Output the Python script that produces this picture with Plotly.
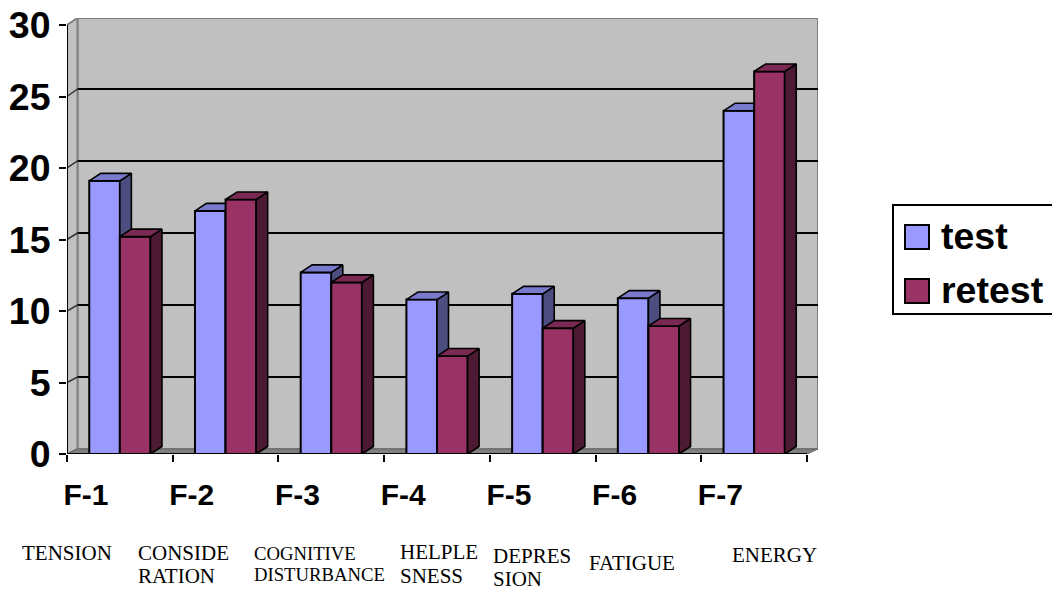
import plotly.graph_objects as go

# ---------- data ----------
factors = ["F-1", "F-2", "F-3", "F-4", "F-5", "F-6", "F-7"]
test_values = [19.1, 17.0, 12.7, 10.8, 11.2, 10.9, 24.0]
retest_values = [15.2, 17.8, 12.0, 6.85, 8.8, 8.95, 26.75]
y_ticks = [0, 5, 10, 15, 20, 25, 30]
series_names = ["test", "retest"]
sub_labels = ["TENSION", "CONSIDE", "RATION", "COGNITIVE", "DISTURBANCE", "HELPLE",
              "SNESS", "DEPRES", "SION", "FATIGUE", "ENERGY"]

# ---------- geometry / style ----------
W, H = 1052, 591
X0, X7, Y0, Y30 = 67, 807, 454, 25
XR, YT = 818, 18
px_x = (X7 - X0) / 7
px_y = (Y0 - Y30) / 30
x_max = (XR - X0) / px_x
y_max = (Y0 - YT) / px_y
wall_dx = 10.5 / px_x
bar_dx = 11.5 / px_x
bar_dy = 7.5 / px_y
bar_w = 30.6 / px_x
TEST, RETEST = "#9999FF", "#993366"
TEST_SIDE, RETEST_SIDE = "#4D4D80", "#4D1A33"
TEST_TOP, RETEST_TOP = "#7A7ACC", "#7A2952"
WALL, EDGE = "#C0C0C0", "#808080"
centers = [i + 0.5 for i in range(len(factors))]


def wall_y(v):
    return v * 1.007 + 0.35


def pxp(x):
    return x / W


def pyp(y):
    return 1 - y / H


def faces(values, left_offset):
    sx, sy, tx, ty = [], [], [], []
    for c, v in zip(centers, values):
        x0 = c + left_offset
        x1 = x0 + bar_w
        sx += [x1, x1 + bar_dx, x1 + bar_dx, x1, x1, None]
        sy += [0, bar_dy, v + bar_dy, v, 0, None]
        tx += [x0, x0 + bar_dx, x1 + bar_dx, x1, x0, None]
        ty += [v, v + bar_dy, v + bar_dy, v, v, None]
    return sx, sy, tx, ty


def poly(x, y, fill, xa, ya):
    return go.Scatter(x=x, y=y, mode="lines", fill="toself", fillcolor=fill,
                      line=dict(color="black", width=1.6), xaxis=xa, yaxis=ya,
                      hoverinfo="skip", showlegend=False)


fig = go.Figure()
ts = faces(test_values, -bar_w)
rs = faces(retest_values, 0)
fig.add_trace(go.Bar(x=centers, y=test_values, width=bar_w, offset=-bar_w, name=series_names[0],
                     marker=dict(color=TEST, line=dict(color="black", width=2)), showlegend=False))
fig.add_trace(poly(ts[0], ts[1], TEST_SIDE, "x", "y"))
fig.add_trace(poly(ts[2], ts[3], TEST_TOP, "x", "y"))
fig.add_trace(go.Bar(x=centers, y=retest_values, width=bar_w, offset=0, name=series_names[1],
                     marker=dict(color=RETEST, line=dict(color="black", width=2)),
                     xaxis="x2", yaxis="y2", showlegend=False))
fig.add_trace(poly(rs[0], rs[1], RETEST_SIDE, "x2", "y2"))
fig.add_trace(poly(rs[2], rs[3], RETEST_TOP, "x2", "y2"))

shapes = []
# back wall, side wall, floor
shapes.append(dict(type="rect", xref="x", yref="y", x0=wall_dx, x1=x_max, y0=wall_y(0), y1=y_max,
                   fillcolor=WALL, line=dict(color=EDGE, width=2), layer="below"))
shapes.append(dict(type="path", xref="x", yref="y",
                   path=f"M0,0 L{wall_dx},{wall_y(0)} L{wall_dx},{y_max} L0,30 Z",
                   fillcolor=WALL, line=dict(color=EDGE, width=2), layer="below"))
for v in y_ticks[1:-1]:
    shapes.append(dict(type="line", xref="x", yref="y", x0=wall_dx, x1=x_max, y0=wall_y(v), y1=wall_y(v),
                       line=dict(color="black", width=2), layer="below"))
    shapes.append(dict(type="line", xref="x", yref="y", x0=0, x1=wall_dx, y0=v, y1=wall_y(v),
                       line=dict(color="#333333", width=1.5), layer="below"))
shapes.append(dict(type="path", xref="x", yref="y",
                   path=f"M0,0 L{wall_dx},{wall_y(0)} L{x_max},{wall_y(0)} L7,0 Z",
                   fillcolor=EDGE, line=dict(color="#666666", width=1), layer="below"))
# axis lines
shapes.append(dict(type="line", xref="x", yref="y", x0=0, x1=0, y0=0, y1=30,
                   line=dict(color="black", width=2), layer="below"))
shapes.append(dict(type="line", xref="x", yref="y", x0=0, x1=7, y0=0, y1=0,
                   line=dict(color="black", width=2), layer="above"))
# legend box and swatches
shapes.append(dict(type="rect", xref="paper", yref="paper", x0=pxp(893), x1=pxp(1053), y0=pyp(314), y1=pyp(205),
                   fillcolor="white", line=dict(color="black", width=2)))
shapes.append(dict(type="rect", xref="paper", yref="paper", x0=pxp(905), x1=pxp(929), y0=pyp(249), y1=pyp(225),
                   fillcolor=TEST, line=dict(color="black", width=2)))
shapes.append(dict(type="rect", xref="paper", yref="paper", x0=pxp(905), x1=pxp(929), y0=pyp(303), y1=pyp(279),
                   fillcolor=RETEST, line=dict(color="black", width=2)))

annotations = []
for name, y in zip(series_names, [236, 290]):
    annotations.append(dict(text=name, xref="paper", yref="paper", x=pxp(939), y=pyp(y), xanchor="left",
                            yanchor="middle", showarrow=False, xshift=0,
                            font=dict(family="Liberation Sans", size=37.5, color="black", weight="bold")))
label_pos = [(22, 553, 21), (138, 553, 21), (138, 576, 21), (254, 553, 18.7), (254, 574, 18.7),
             (400, 552, 21), (400, 576, 21), (493, 556, 21), (493, 578.5, 21), (589, 563, 21), (732, 555, 21)]
for t, (x, y, s) in zip(sub_labels, label_pos):
    annotations.append(dict(text=t, xref="paper", yref="paper", x=pxp(x), y=pyp(y), xanchor="left",
                            yanchor="middle", showarrow=False, borderpad=0, borderwidth=0,
                            font=dict(family="Liberation Serif", size=s, color="black")))

dom_x = [pxp(X0), pxp(XR)]
dom_y = [pyp(Y0), pyp(YT)]
fig.update_layout(
    width=W, height=H, autosize=False, margin=dict(l=0, r=0, t=0, b=0, autoexpand=False),
    paper_bgcolor="white", plot_bgcolor="rgba(0,0,0,0)", showlegend=False,
    shapes=shapes, annotations=annotations,
    xaxis=dict(domain=dom_x, range=[0, x_max], showgrid=False, zeroline=False, showline=False,
               tickmode="array", tickvals=[i + 0.18 for i in range(7)], ticktext=factors,
               ticks="outside", ticklen=0, ticklabelstandoff=14,
               tickfont=dict(family="Liberation Sans", size=30, color="black", weight="bold"),
               minor=dict(tickmode="array", tickvals=list(range(8)), ticks="outside", ticklen=7,
                          tickwidth=2, tickcolor="black", showgrid=False)),
    yaxis=dict(domain=dom_y, range=[0, y_max], showgrid=False, zeroline=False, showline=False,
               tickmode="array", tickvals=y_ticks, ticks="outside", ticklen=7, tickwidth=2, tickcolor="black",
               ticklabelstandoff=1,
               tickfont=dict(family="Liberation Sans", size=37.5, color="black", weight="bold")),
    xaxis2=dict(domain=dom_x, range=[0, x_max], overlaying="x", visible=False),
    yaxis2=dict(domain=dom_y, range=[0, y_max], overlaying="y", visible=False),
)
fig.write_html("out.html", config={"displayModeBar": False},
               post_script="document.body.style.margin='0';document.body.style.overflow='hidden';")
